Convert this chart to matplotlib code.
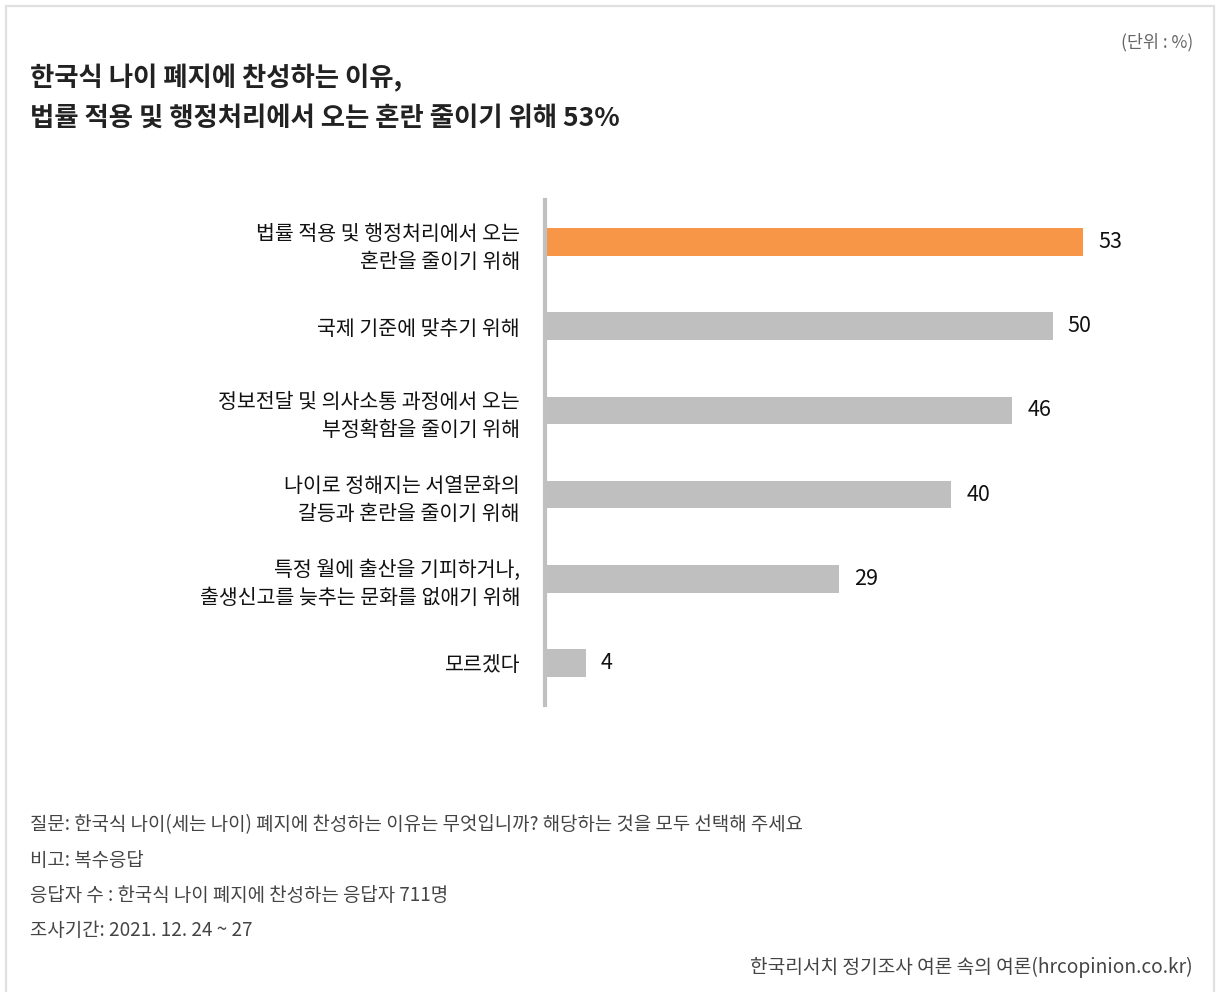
import matplotlib
matplotlib.use("Agg")
import matplotlib.pyplot as plt
from matplotlib.patches import Rectangle

plt.rcParams['font.family'] = ['Noto Sans CJK KR', 'DejaVu Sans']

categories = [
    "법률 적용 및 행정처리에서 오는\n혼란을 줄이기 위해",
    "국제 기준에 맞추기 위해",
    "정보전달 및 의사소통 과정에서 오는\n부정확함을 줄이기 위해",
    "나이로 정해지는 서열문화의\n갈등과 혼란을 줄이기 위해",
    "특정 월에 출산을 기피하거나,\n출생신고를 늦추는 문화를 없애기 위해",
    "모르겠다",
]
values = [53, 50, 46, 40, 29, 4]
highlight = [True, False, False, False, False, False]

title_lines = ["한국식 나이 폐지에 찬성하는 이유,",
               "법률 적용 및 행정처리에서 오는 혼란 줄이기 위해 53%"]
unit_label = "(단위 : %)"
notes = [
    "질문: 한국식 나이(세는 나이) 폐지에 찬성하는 이유는 무엇입니까? 해당하는 것을 모두 선택해 주세요",
    "비고: 복수응답",
    "응답자 수 : 한국식 나이 폐지에 찬성하는 응답자 711명",
    "조사기간: 2021. 12. 24 ~ 27",
]
source = "한국리서치 정기조사 여론 속의 여론(hrcopinion.co.kr)"

W, H = 1221, 992
fig = plt.figure(figsize=(W / 100, H / 100), dpi=100)
fig.patch.set_facecolor("white")

# frame
fig.add_artist(Rectangle((6 / W, -0.02), (1214 - 6) / W, 1 - 6 / H + 0.02,
                         transform=fig.transFigure, fill=False,
                         edgecolor="#e0e0e0", linewidth=1.6))

ax = fig.add_axes([545 / W, 1 - 705 / H, 609 / W, 505 / H])
ypos = list(range(len(categories)))
colors = ["#F79646" if h else "#BFBFBF" for h in highlight]
ax.barh(ypos, values, height=0.33, color=colors, zorder=1)
ax.set_xlim(0, 60)
ax.set_ylim(len(categories) - 0.5, -0.5)
ax.set_yticks(ypos)
ax.set_yticklabels(categories, fontsize=14.8, color="#111111", linespacing=1.35)
ax.tick_params(axis="y", length=0, pad=18)
ax.set_xticks([])
for s in ["top", "right", "bottom"]:
    ax.spines[s].set_visible(False)
ax.spines["left"].set_color("#C0C0C0")
ax.spines["left"].set_linewidth(3)
ax.spines["left"].set_zorder(3)
ax.set_facecolor("none")

for y, v in zip(ypos, values):
    ax.text(v + 1.5, y, str(v), va="center", ha="left", fontsize=15.5, color="#111111")

fig.text(30 / W, 1 - 78 / H, title_lines[0], fontsize=19, fontweight="bold",
         color="#222222", va="center", ha="left")
fig.text(30 / W, 1 - 118 / H, title_lines[1], fontsize=19, fontweight="bold",
         color="#222222", va="center", ha="left")
fig.text(1193 / W, 1 - 42 / H, unit_label, fontsize=12.5, color="#666666",
         va="center", ha="right")

for i, n in enumerate(notes):
    fig.text(30 / W, 1 - (825 + 35.3 * i) / H, n, fontsize=13.6, color="#444444",
             va="center", ha="left")
fig.text(1193 / W, 1 - 967 / H, source, fontsize=13.8, color="#444444",
         va="center", ha="right")

fig.savefig("out.png", dpi=100, facecolor="white")
